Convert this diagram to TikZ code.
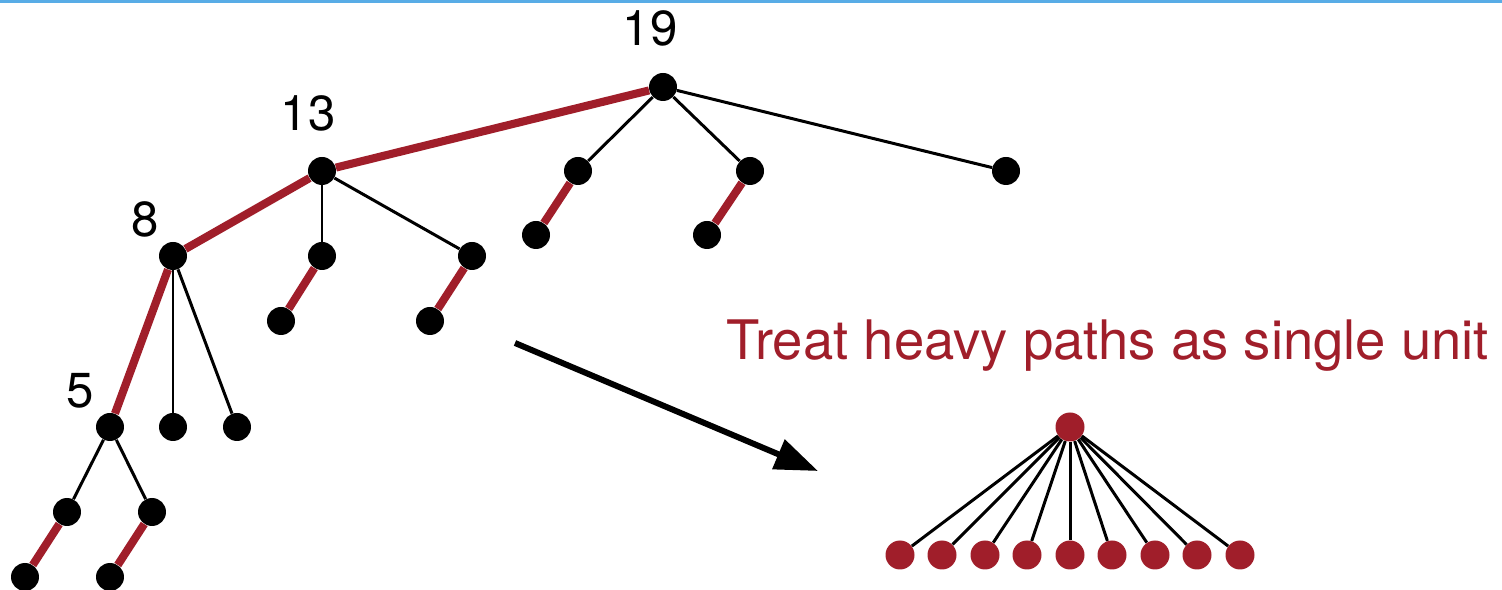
\documentclass[tikz,border=0pt]{standalone}
\usepackage{fontspec}
\setmainfont{TeX Gyre Heros}
\usetikzlibrary{arrows.meta}
\definecolor{heavyred}{RGB}{160,30,42}
\definecolor{rulerblue}{RGB}{88,172,230}

\begin{document}
\begin{tikzpicture}[x=0.02cm,y=-0.02cm,
  dot/.style={circle,fill=black,inner sep=0pt,minimum size=0.56cm},
  reddot/.style={circle,fill=heavyred,inner sep=0pt,minimum size=0.58cm},
  light/.style={line width=1.7pt},
  heavy/.style={line width=4.6pt,draw=heavyred},
  num/.style={font=\fontsize{28}{32}\selectfont}]
\useasboundingbox (0,0) rectangle (1502,590);
\draw[rulerblue,line width=1.9pt] (0,1.5) -- (1502,1.5);
% the tree
\node[dot] (R) at (663,87) {};
\node[dot] (A) at (322,171) {};
\node[dot] (B) at (173,256) {};
\node[dot] (C) at (110,427) {};
\node[dot] (C1) at (67,512) {};
\node[dot] (C2) at (152,512) {};
\node[dot] (C1') at (25,577) {};
\node[dot] (C2') at (110,577) {};
\node[dot] (B1) at (173,427) {};
\node[dot] (B2) at (237,427) {};
\node[dot] (A1) at (322,256) {};
\node[dot] (A2) at (472,256) {};
\node[dot] (A1') at (281,321) {};
\node[dot] (A2') at (430,321) {};
\node[dot] (R1) at (578,171) {};
\node[dot] (R2) at (750,171) {};
\node[dot] (R3) at (1006,171) {};
\node[dot] (R1') at (536,235) {};
\node[dot] (R2') at (707,235) {};
\node[num] (lR) at (650,28) {19};
\node[num] (lA) at (308,113) {13};
\node[num] (lB) at (145,219) {8};
\node[num] (lC) at (80,391) {5};
\path[light]
(R) edge (R1)
(R) edge (R2)
(R) edge (R3)
(A) edge (A1)
(A) edge (A2)
(B) edge (B1)
(B) edge (B2)
(C) edge (C1)
(C) edge (C2);
\path[heavy]
(R) edge (A)
(A) edge (B)
(B) edge (C)
(C1) edge (C1')
(C2) edge (C2')
(A1) edge (A1')
(A2) edge (A2')
(R1) edge (R1')
(R2) edge (R2');
% contracted picture
\coordinate (from) at (515,343);
\coordinate (to) at (818,471);
\draw[line width=3.4pt,-{Triangle[length=0.86cm,width=0.62cm]}] (from) -- (to);
\node[text=heavyred,font=\fontsize{31}{35}\selectfont] (T) at (1108,346) {Treat heavy paths as single unit};
\node[reddot] (U) at (1070,427) {};
\node[reddot] (U1) at (900,555) {};
\node[reddot] (U2) at (942,555) {};
\node[reddot] (U3) at (985,555) {};
\node[reddot] (U4) at (1027,555) {};
\node[reddot] (U5) at (1070,555) {};
\node[reddot] (U6) at (1112,555) {};
\node[reddot] (U7) at (1155,555) {};
\node[reddot] (U8) at (1197,555) {};
\node[reddot] (U9) at (1240,555) {};
\path[light]
(U) edge (U1)
(U) edge (U2)
(U) edge (U3)
(U) edge (U4)
(U) edge (U5)
(U) edge (U6)
(U) edge (U7)
(U) edge (U8)
(U) edge (U9);
\end{tikzpicture}
\end{document}
